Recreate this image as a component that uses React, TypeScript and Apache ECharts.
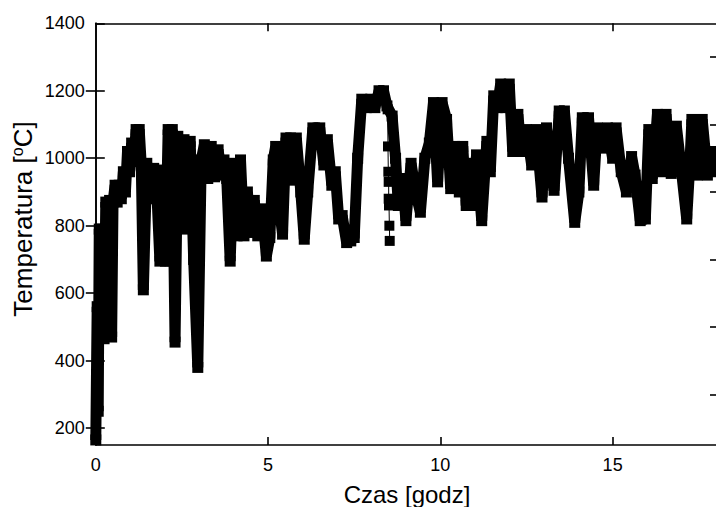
import React, { useEffect, useRef } from "react";
import * as echarts from "echarts";

// Time [h] and temperature [°C]
const hours = [
  0.0, 0.04, 0.07, 0.1, 0.14, 0.19, 0.24, 0.29, 0.34, 0.4, 0.46, 0.5, 0.56, 0.62, 0.68, 0.74, 0.8, 0.86, 0.92, 0.98,
  1.04, 1.1, 1.17, 1.26, 1.32, 1.38, 1.48, 1.58, 1.68, 1.78, 1.86, 1.94, 2.02, 2.1, 2.16, 2.22, 2.3, 2.38, 2.48, 2.56,
  2.64, 2.74, 2.84, 2.96, 3.06, 3.15, 3.25, 3.35, 3.45, 3.55, 3.65, 3.72, 3.8, 3.9, 4.0, 4.1, 4.2, 4.3, 4.4, 4.5,
  4.6, 4.7, 4.82, 4.95, 5.05, 5.15, 5.22, 5.32, 5.42, 5.52, 5.65, 5.72, 5.82, 5.95, 6.05, 6.15, 6.3, 6.5, 6.62, 6.72,
  6.85, 6.95, 7.05, 7.15, 7.28, 7.4, 7.5, 7.6, 7.72, 7.85, 7.98, 8.1, 8.22, 8.35, 8.45, 8.6, 8.7, 8.78, 8.9, 9.0,
  9.15, 9.3, 9.42, 9.55, 9.68, 9.8, 9.92, 10.05, 10.18, 10.3, 10.42, 10.55, 10.65, 10.75, 10.85, 10.95, 11.05, 11.2, 11.35, 11.45,
  11.55, 11.65, 11.75, 11.9, 12.0, 12.1, 12.25, 12.35, 12.5, 12.65, 12.78, 12.95, 13.08, 13.3, 13.45, 13.6, 13.72, 13.9, 14.02, 14.12,
  14.3, 14.45, 14.55, 14.7, 14.85, 15.0, 15.1, 15.25, 15.4, 15.55, 15.65, 15.8, 15.95, 16.05, 16.15, 16.3, 16.45, 16.55, 16.7, 16.85,
  17.0, 17.15, 17.25, 17.3, 17.45, 17.6, 17.75, 17.88, 18.0,
];
const temps = [
  165, 560, 250, 790, 470, 790, 465, 870, 480, 875, 470, 870, 920, 870, 920, 880, 960, 900, 1020, 960,
  1045, 990, 1085, 1085, 980, 610, 985, 880, 970, 880, 695, 965, 695, 1085, 695, 1085, 455, 1065, 800, 1055,
  790, 1050, 700, 380, 995, 1040, 940, 1035, 945, 1025, 950, 995, 940, 695, 985, 770, 995, 770, 900, 780,
  875, 770, 850, 710, 765, 995, 1035, 860, 775, 1060, 1060, 935, 1060, 900, 760, 900, 1090, 1090, 980, 1055,
  920, 960, 820, 830, 750, 755, 765, 1000, 1175, 1150, 1175, 1150, 1200, 1200, 1155, 1125, 1000, 860, 940, 815,
  985, 890, 840, 1000, 1045, 1165, 930, 1165, 1115, 910, 1035, 900, 1035, 860, 985, 860, 1010, 815, 1050, 960,
  1185, 1150, 1220, 1150, 1220, 1020, 1130, 1020, 1085, 980, 1085, 885, 1090, 905, 1140, 1140, 1000, 810, 900, 1120,
  1120, 920, 1090, 1030, 1090, 1000, 1090, 960, 900, 1005, 950, 815, 820, 1085, 940, 1130, 960, 1130, 955, 1095,
  960, 820, 1000, 1115, 950, 1115, 950, 1020, 960,
];

// Sparse, nearly vertical fall near 8.5 h (drawn as separate squares)
const dropHours = [8.47, 8.48, 8.49, 8.5, 8.5, 8.51, 8.52, 8.53];
const dropTemps = [1145, 1035, 960, 930, 880, 860, 800, 755];

const xTicks = [0, 5, 10, 15];
const yTicks = [200, 400, 600, 800, 1000, 1200, 1400];
const yMinorTicks = [300, 500, 700, 900, 1100, 1300];

const FONT = "'Liberation Sans', Arial, sans-serif";

export default function App() {
  const ref = useRef<HTMLDivElement>(null);

  useEffect(() => {
    if (!ref.current) return;
    const chart = echarts.init(ref.current, null, { renderer: "svg" });
    const mainData = hours.map((h, i) => [h, temps[i]]);
    const dropData = dropHours.map((h, i) => [h, dropTemps[i]]);
    const axisLine = { show: true, lineStyle: { color: "#000", width: 1.6 } };
    const plain = (v: number) => String(v);

    chart.setOption({
      animation: false,
      backgroundColor: "#fff",
      grid: { left: 95.8, top: 23.3, width: 623.5, height: 421.7, containLabel: false },
      xAxis: [
        {
          type: "value",
          position: "bottom",
          min: 0,
          max: 18,
          axisLine,
          axisTick: { show: true, inside: true, length: 8, customValues: xTicks, lineStyle: { color: "#000", width: 1.6 } },
          axisLabel: { customValues: xTicks, formatter: plain, margin: 11, fontSize: 18, color: "#000", fontFamily: FONT },
          splitLine: { show: false },
        },
        {
          type: "value",
          position: "top",
          min: 0,
          max: 18,
          axisLine,
          axisTick: { show: true, inside: true, length: 8, customValues: [5, 10, 15], lineStyle: { color: "#000", width: 1.6 } },
          axisLabel: { show: false },
          splitLine: { show: false },
        },
      ],
      yAxis: [
        {
          type: "value",
          position: "left",
          min: 150,
          max: 1400,
          axisLine,
          axisTick: { show: true, inside: true, length: 9, customValues: yTicks, lineStyle: { color: "#000", width: 1.6 } },
          axisLabel: { customValues: yTicks, formatter: plain, margin: 11, fontSize: 18, color: "#000", fontFamily: FONT },
          splitLine: { show: false },
        },
        {
          type: "value",
          position: "right",
          min: 150,
          max: 1400,
          axisLine,
          axisTick: { show: true, inside: true, length: 10, customValues: yTicks.slice(0, 6), lineStyle: { color: "#000", width: 1.6 } },
          axisLabel: { show: false },
          splitLine: { show: false },
        },
        {
          type: "value",
          position: "right",
          min: 150,
          max: 1400,
          axisLine: { show: false },
          axisTick: { show: true, inside: true, length: 6, customValues: yMinorTicks, lineStyle: { color: "#000", width: 1.6 } },
          axisLabel: { show: false },
          splitLine: { show: false },
        },
      ],
      graphic: [
        {
          type: "text",
          x: 407,
          y: 494,
          style: {
            text: "Czas [godz]",
            font: `24px ${FONT}`,
            fill: "#000",
            align: "center",
            verticalAlign: "middle",
          },
        },
        {
          type: "text",
          x: 23,
          y: 219,
          rotation: Math.PI / 2,
          style: {
            text: "Temperatura [{s|o}C]",
            font: `26px ${FONT}`,
            fill: "#000",
            align: "center",
            verticalAlign: "middle",
            rich: {
              s: { fontSize: 16, fontFamily: FONT, fill: "#000", verticalAlign: "top", padding: [0, 0, 11, 0] },
            },
          },
        },
      ],
      series: [
        {
          type: "line",
          xAxisIndex: 0,
          yAxisIndex: 0,
          data: mainData,
          symbol: "rect",
          symbolSize: 11,
          showSymbol: true,
          clip: true,
          itemStyle: { color: "#000" },
          lineStyle: { color: "#000", width: 11, join: "bevel", cap: "butt" },
          z: 2,
        },
        {
          type: "line",
          xAxisIndex: 0,
          yAxisIndex: 0,
          data: dropData,
          symbol: "rect",
          symbolSize: 10,
          showSymbol: true,
          clip: true,
          itemStyle: { color: "#000" },
          lineStyle: { color: "#000", width: 1 },
          z: 2,
        },
      ],
    });
    return () => chart.dispose();
  }, []);

  return (
    <div
      ref={ref}
      style={{ position: "absolute", left: 0, top: 0, width: 716, height: 507 }}
    />
  );
}
